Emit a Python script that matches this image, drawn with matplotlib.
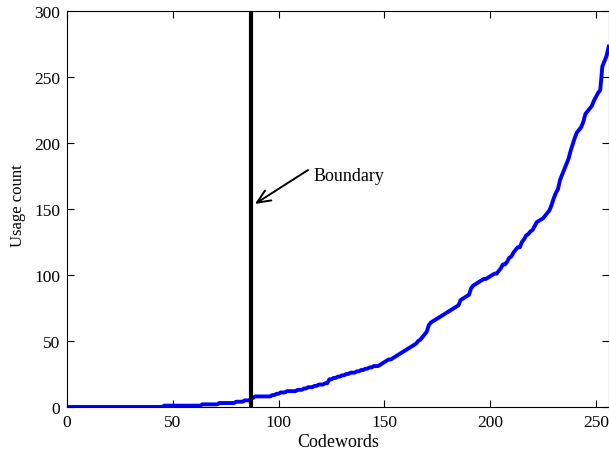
"""Sorted codeword usage counts with the boundary marker."""
import matplotlib
matplotlib.use("Agg")
import matplotlib.pyplot as plt
import numpy as np

# usage count per codeword, sorted ascending
usage_counts = [
    0, 0, 0, 0, 0, 0, 0, 0, 0, 0, 0, 0, 0, 0, 0, 0, 0, 0, 0, 0,
    0, 0, 0, 0, 0, 0, 0, 0, 0, 0, 0, 0, 0, 0, 0, 0, 0, 0, 0, 0,
    0, 0, 0, 0, 0,
    1, 1, 1, 1, 1, 1, 1, 1, 1, 1, 1, 1, 1, 1, 1, 1, 1, 1,
    2, 2, 2, 2, 2, 2, 2, 2,
    3, 3, 3, 3, 3, 3, 3, 3,
    4, 4, 4, 4,
    5, 5, 5,
    6, 7,
    8, 8, 8, 8, 8, 8, 8, 8,
    9, 9, 10, 10,
    11, 11, 11, 12, 12, 12, 12, 12, 13, 13,
    13, 14, 14, 15, 15, 15, 16, 16, 17, 17, 17, 18, 18,
    21,
    21, 22, 22, 23, 23, 24, 24,
    25, 25, 26, 26, 26, 27,
    27, 28, 28, 29, 29,
    30, 30, 31, 31, 31, 32,
    33, 34, 35, 36, 36, 37, 38,
    39, 40, 41, 42, 43, 44, 45,
    46, 47, 48, 50, 51, 53, 55, 57,
    62,
    64, 65, 66, 67, 68,
    69, 70, 71, 72, 73, 74, 75, 76, 77,
    81, 82, 83, 84, 85,
    90, 92, 93, 94, 95,
    96, 97, 97, 98, 99,
    100, 101, 101, 103, 105,
    108, 108, 110, 113, 114,
    117, 119, 121, 121, 125,
    127, 130, 131, 133, 134,
    137, 140, 141, 142, 143,
    145, 147, 149, 153, 158,
    162, 165, 172, 176, 180,
    184, 188, 194, 199, 204,
    208, 210, 212, 216, 222,
    224, 226, 228, 232, 235,
    238, 240, 258, 262, 266, 273,
]
codewords = np.arange(1, len(usage_counts) + 1)
boundary = 87
x_ticks = [0, 50, 100, 150, 200, 250]
y_ticks = [0, 50, 100, 150, 200, 250, 300]

plt.rcParams["font.family"] = ["Liberation Serif", "DejaVu Serif"]
plt.rcParams["font.size"] = 12

fig = plt.figure(figsize=(6.09, 4.56), dpi=100)
ax = fig.add_axes([0.110, 0.1053, 0.8895, 0.8684])

ax.plot(codewords, usage_counts, color="#0000ff", linewidth=2.8)
ax.axvline(boundary, color="black", linewidth=3)

ax.annotate("", xy=(88.8, 153.8), xytext=(113.9, 179.5),
            arrowprops=dict(arrowstyle="->,head_length=0.8,head_width=0.35",
                            color="black", linewidth=1.4, shrinkA=0, shrinkB=0))
ax.text(116.3, 175, "Boundary", ha="left", va="center", fontsize=13)

ax.set_xlim(0, 256)
ax.set_ylim(0, 300)
ax.set_xticks(x_ticks)
ax.set_yticks(y_ticks)
ax.tick_params(direction="in", top=True, right=True, length=5, width=0.8,
               labelsize=12.5, pad=5)
ax.set_xlabel("Codewords", fontsize=13, labelpad=2)
ax.set_ylabel("Usage count", fontsize=12)
ax.yaxis.set_label_coords(-0.075, 0.51)
for spine in ax.spines.values():
    spine.set_linewidth(0.8)

fig.savefig("out.png", dpi=100)
plt.close(fig)
